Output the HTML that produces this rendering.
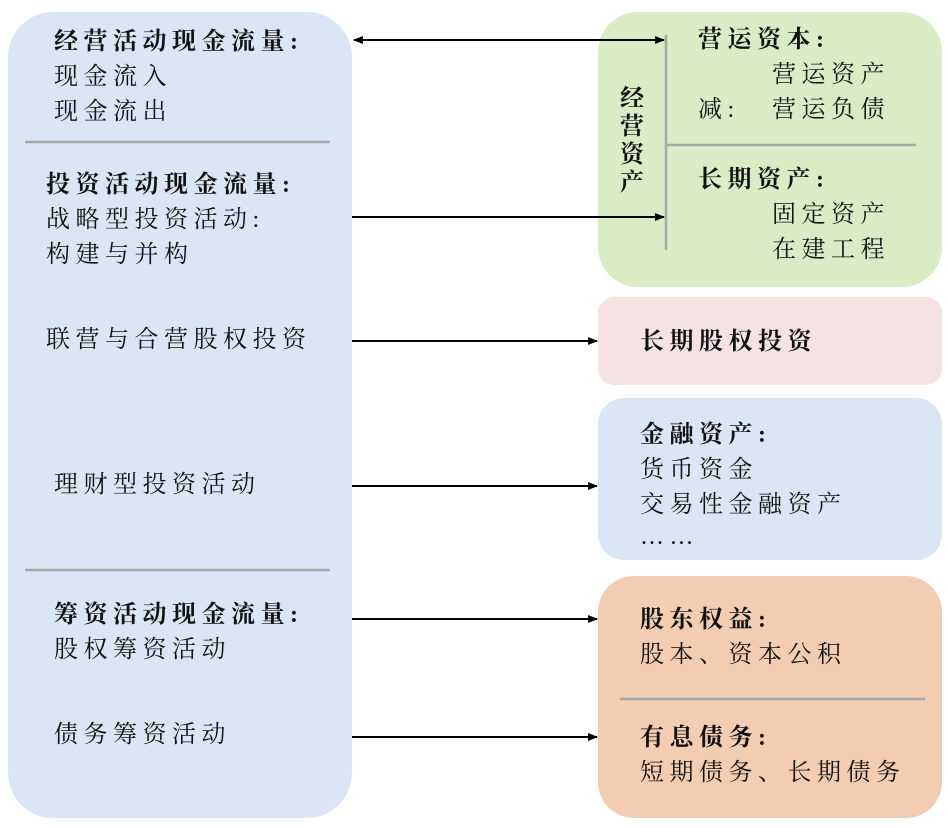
<!DOCTYPE html>
<html><head><meta charset="utf-8"><style>
body{margin:0;width:948px;height:828px;background:#fff;position:relative;overflow:hidden;font-family:"Liberation Serif","Noto Serif CJK SC",serif;}
.b{position:absolute;}
.t{position:absolute;font-size:24px;line-height:30px;white-space:nowrap;color:#111;letter-spacing:5.5px;}
.bold{font-weight:bold;}
</style></head><body>
<div class="b" style="left:8px;top:12px;width:344px;height:806px;background:#dae6f5;border-radius:45px"></div>
<div class="b" style="left:598px;top:12px;width:344px;height:275px;background:#d9ecc5;border-radius:40px"></div>
<div class="b" style="left:598px;top:297px;width:344px;height:88px;background:#f5e3e3;border-radius:16px"></div>
<div class="b" style="left:598px;top:398px;width:344px;height:162px;background:#dae6f5;border-radius:26px"></div>
<div class="b" style="left:598px;top:576px;width:344px;height:242px;background:#f3cdb2;border-radius:36px"></div>
<svg class="b" style="left:0;top:0" width="948" height="828">
<defs><marker id="a" markerWidth="10" markerHeight="8" refX="9" refY="4" orient="auto-start-reverse" markerUnits="userSpaceOnUse"><path d="M0,0 L10,4 L0,8 z" fill="#000"/></marker></defs>
<g stroke="#a6a6a6" stroke-width="2.5">
<line x1="25" y1="142" x2="330" y2="142"/><line x1="25" y1="570" x2="330" y2="570"/>
<line x1="666" y1="35" x2="666" y2="250"/><line x1="666" y1="145" x2="916" y2="145"/>
<line x1="620" y1="699" x2="925" y2="699"/></g>
<g stroke="#000" stroke-width="2" marker-end="url(#a)">
<line x1="354" y1="40" x2="664" y2="40" marker-start="url(#a)"/>
<line x1="352" y1="217" x2="664" y2="217"/>
<line x1="352" y1="341" x2="597" y2="341"/>
<line x1="352" y1="486" x2="597" y2="486"/>
<line x1="352" y1="619" x2="597" y2="619"/>
<line x1="352" y1="737" x2="597" y2="737"/></g>
</svg>
<div class="t bold" style="left:54px;top:27px">经营活动现金流量:</div>
<div class="t" style="left:54px;top:62px">现金流入</div>
<div class="t" style="left:54px;top:97px">现金流出</div>
<div class="t bold" style="left:46px;top:170px">投资活动现金流量:</div>
<div class="t" style="left:46px;top:205px">战略型投资活动:</div>
<div class="t" style="left:46px;top:240px">构建与并构</div>
<div class="t" style="left:46px;top:325px">联营与合营股权投资</div>
<div class="t" style="left:54px;top:470px">理财型投资活动</div>
<div class="t bold" style="left:54px;top:600px">筹资活动现金流量:</div>
<div class="t" style="left:54px;top:635px">股权筹资活动</div>
<div class="t" style="left:54px;top:720px">债务筹资活动</div>
<div class="t bold" style="left:620px;top:85px;width:28px;line-height:28px;white-space:normal;letter-spacing:0">经营资产</div>
<div class="t bold" style="left:698px;top:25px">营运资本:</div>
<div class="t" style="left:772px;top:60px">营运资产</div>
<div class="t" style="left:698px;top:95px">减:</div>
<div class="t" style="left:772px;top:95px">营运负债</div>
<div class="t bold" style="left:698px;top:165px">长期资产:</div>
<div class="t" style="left:772px;top:200px">固定资产</div>
<div class="t" style="left:772px;top:235px">在建工程</div>
<div class="t bold" style="left:640px;top:327px">长期股权投资</div>
<div class="t bold" style="left:640px;top:420px">金融资产:</div>
<div class="t" style="left:640px;top:455px">货币资金</div>
<div class="t" style="left:640px;top:490px">交易性金融资产</div>
<div class="t" style="left:640px;top:522px">……</div>
<div class="t bold" style="left:640px;top:605px">股东权益:</div>
<div class="t" style="left:640px;top:640px">股本、资本公积</div>
<div class="t bold" style="left:640px;top:723px">有息债务:</div>
<div class="t" style="left:640px;top:758px">短期债务、长期债务</div>
</body></html>
